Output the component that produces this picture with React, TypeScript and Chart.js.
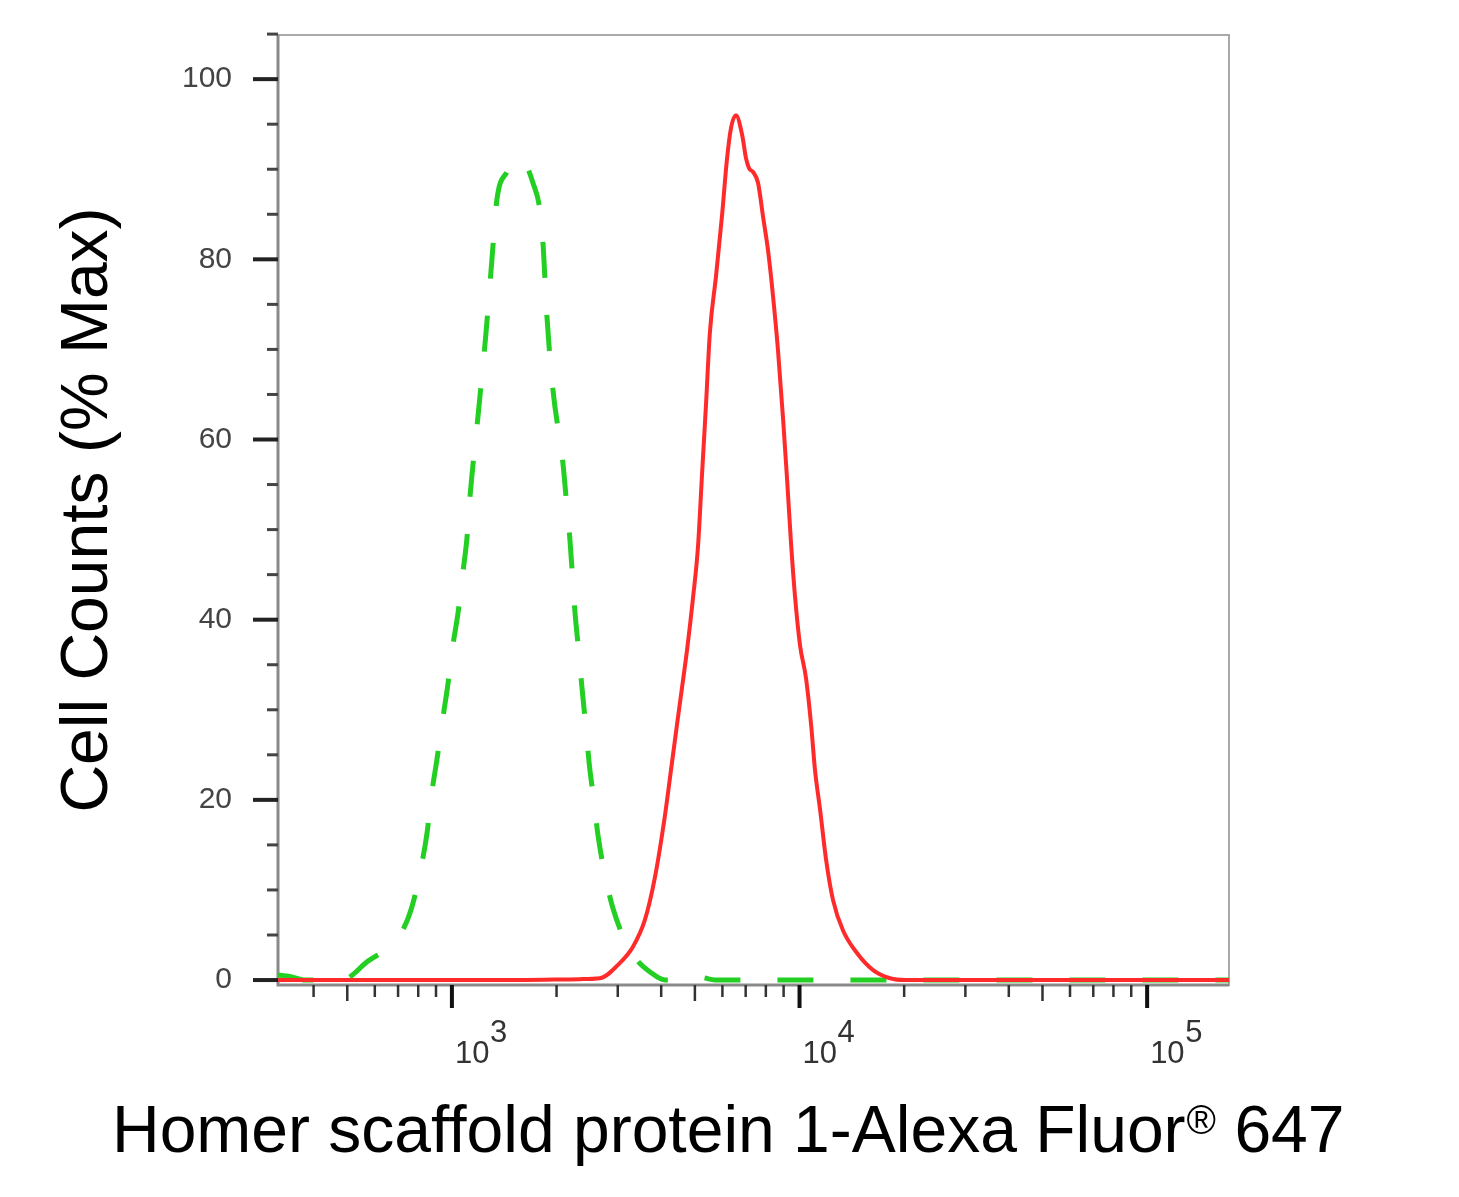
import React, { useEffect, useRef } from "react";
import Chart from "chart.js/auto";

// [intensity, % of max]
const stainedCurve: [number, number][] = [
  [316, 0], [708, 0], [1570, 0], [2334, 0.1], [2667, 0.2], [3043, 1.9],
  [3318, 3.7], [3592, 6.7], [3837, 11.4], [4102, 18.3], [4268, 23.3],
  [4440, 28.3], [4589, 32.4], [4746, 36.6], [4938, 42.4], [5104, 48.1],
  [5240, 56.0], [5383, 63.9], [5521, 71.8], [5754, 78.2], [5986, 84.9],
  [6180, 91.0], [6353, 94.6], [6563, 96.0], [6839, 93.8], [7017, 91.2],
  [7160, 90.1], [7346, 89.7], [7596, 88.5], [7856, 84.7], [8117, 81.0],
  [8386, 76.0], [8671, 69.9], [8971, 62.2], [9212, 55.5], [9460, 48.3],
  [9710, 42.5], [10030, 37.2], [10440, 33.5], [10800, 28.3], [11080, 23.3],
  [11460, 18.9], [11910, 13.5], [12480, 8.9], [13340, 5.5], [14630, 3.0],
  [16280, 1.1], [18210, 0.2], [20130, 0], [37760, 0], [172000, 0],
];

const controlCurve: [number, number][] = [
  [316, 0.55], [342, 0.4], [378, 0], [446, 0], [482, 0], [569, 2.0],
  [708, 5.0], [767, 8.1], [820, 13.0], [848, 16.3], [876, 20.9], [905, 24.4],
  [942, 29.1], [973, 32.7], [1007, 37.2], [1041, 40.7], [1076, 45.3],
  [1105, 49.1], [1127, 53.6], [1188, 62.5], [1253, 71.8], [1303, 79.9],
  [1347, 86.6], [1439, 89.7], [1538, 91.3], [1633, 90.5], [1710, 88.5],
  [1791, 85.5], [1828, 81.8], [1877, 73.6], [1953, 65.5], [2086, 57.4],
  [2142, 52.5], [2186, 48.8], [2261, 40.7], [2319, 36.3], [2366, 32.5],
  [2430, 28.0], [2480, 24.2], [2563, 19.8], [2631, 16.1], [2756, 11.7],
  [2904, 8.0], [3190, 3.9], [3407, 2.2], [3715, 0.9], [4102, 0],
  [4842, 0.1], [5174, 0.3], [5715, 0], [7000, 0], [172000, 0],
];

const yTickValues = [0, 20, 40, 60, 80, 100];
const yMinorTicks = [5, 10, 15, 25, 30, 35, 45, 50, 55, 65, 70, 75, 85, 90, 95, 105];
const xMajorTicks = [1000, 10000, 100000];
const xMinorTicks = [
  400, 600, 700, 800, 900,
  2000, 3000, 4000, 6000, 7000, 8000, 9000,
  20000, 30000, 40000, 60000, 70000, 80000, 90000,
];
const xMidTicks = [500, 5000, 50000];
const xExponents = ["3", "4", "5"];

const xTitleMain = "Homer scaffold protein 1-Alexa Fluor";
const xTitleMark = "®";
const xTitleTail = " 647";
const yTitle = "Cell Counts (% Max)";

const FONT = "'Liberation Sans', Arial, sans-serif";

const axesPlugin = {
  id: "flowAxes",
  beforeDatasetsDraw(chart: any) {
    const { ctx, chartArea: a } = chart;
    ctx.save();
    ctx.strokeStyle = "#a9a9a9";
    ctx.lineWidth = 2;
    ctx.strokeRect(a.left, a.top, a.right - a.left, a.bottom - a.top);
    ctx.strokeStyle = "#8a8a8a";
    ctx.lineWidth = 3;
    ctx.beginPath();
    ctx.moveTo(a.left, a.top);
    ctx.lineTo(a.left, a.bottom);
    ctx.lineTo(a.right, a.bottom);
    ctx.stroke();
    ctx.restore();
  },
  afterDraw(chart: any) {
    const { ctx, chartArea: a } = chart;
    const xs = chart.scales.x;
    const ys = chart.scales.y;
    ctx.save();

    // y ticks
    ctx.strokeStyle = "#222";
    ctx.lineWidth = 4;
    yTickValues.forEach((v) => {
      const p = ys.getPixelForValue(v);
      ctx.beginPath();
      ctx.moveTo(a.left - 25, p);
      ctx.lineTo(a.left, p);
      ctx.stroke();
    });
    ctx.strokeStyle = "#444";
    ctx.lineWidth = 3;
    yMinorTicks.forEach((v) => {
      const p = ys.getPixelForValue(v);
      ctx.beginPath();
      ctx.moveTo(a.left - 11, p);
      ctx.lineTo(a.left, p);
      ctx.stroke();
    });

    // x ticks
    ctx.strokeStyle = "#333";
    ctx.lineWidth = 2.5;
    xMinorTicks.forEach((v) => {
      const p = xs.getPixelForValue(v);
      ctx.beginPath();
      ctx.moveTo(p, a.bottom);
      ctx.lineTo(p, a.bottom + 12);
      ctx.stroke();
    });
    xMidTicks.forEach((v) => {
      const p = xs.getPixelForValue(v);
      ctx.beginPath();
      ctx.moveTo(p, a.bottom);
      ctx.lineTo(p, a.bottom + 16);
      ctx.stroke();
    });
    ctx.strokeStyle = "#111";
    ctx.lineWidth = 4;
    xMajorTicks.forEach((v) => {
      const p = xs.getPixelForValue(v);
      ctx.beginPath();
      ctx.moveTo(p, a.bottom);
      ctx.lineTo(p, a.bottom + 23);
      ctx.stroke();
    });

    // x tick labels, 10 with a raised exponent
    ctx.fillStyle = "#333";
    ctx.textAlign = "left";
    ctx.textBaseline = "alphabetic";
    ctx.font = `31px ${FONT}`;
    xMajorTicks.forEach((v, i) => {
      const p = xs.getPixelForValue(v);
      ctx.fillText("10", p + 3, a.bottom + 78);
      ctx.fillText(xExponents[i], p + 38, a.bottom + 57);
    });

    // x title
    ctx.fillStyle = "#000";
    ctx.font = `66px ${FONT}`;
    let tx = 112;
    const ty = 1152;
    ctx.fillText(xTitleMain, tx, ty);
    tx += ctx.measureText(xTitleMain).width;
    ctx.font = `40px ${FONT}`;
    ctx.fillText(xTitleMark, tx + 1, ty - 18);
    tx += ctx.measureText(xTitleMark).width + 1;
    ctx.font = `66px ${FONT}`;
    ctx.fillText(xTitleTail, tx, ty);

    ctx.restore();
  },
};

const FlowHistogram: React.FC = () => {
  const canvasRef = useRef<HTMLCanvasElement | null>(null);

  useEffect(() => {
    document.body.style.margin = "0";
    if (!canvasRef.current) return;
    const ctx = canvasRef.current.getContext("2d");
    if (!ctx) return;

    const chart = new Chart(ctx, {
      type: "line",
      data: {
        datasets: [
          {
            label: "Homer1",
            data: stainedCurve.map(([x, y]) => ({ x, y })),
            borderColor: "#ff2b2b",
            borderWidth: 4,
            pointRadius: 0,
            cubicInterpolationMode: "monotone",
            fill: false,
          },
          {
            label: "Isotype control",
            data: controlCurve.map(([x, y]) => ({ x, y })),
            borderColor: "#22cf22",
            borderWidth: 5,
            borderDash: [36, 37],
            pointRadius: 0,
            cubicInterpolationMode: "monotone",
            fill: false,
          },
        ],
      },
      options: {
        responsive: true,
        maintainAspectRatio: false,
        animation: false,
        events: [],
        layout: { padding: { left: 0, top: 35, right: 230, bottom: 0 } },
        scales: {
          x: {
            type: "logarithmic",
            min: 316,
            max: 172000,
            grid: { display: false, drawTicks: false },
            border: { display: false },
            ticks: { display: false },
            afterFit: (scale: any) => {
              scale.height = 212;
              scale.paddingLeft = 0;
              scale.paddingRight = 0;
            },
          },
          y: {
            type: "linear",
            min: -0.55,
            max: 104.9,
            grid: { display: false, drawTicks: false },
            border: { display: false },
            afterBuildTicks: (scale: any) => {
              scale.ticks = yTickValues.map((v) => ({ value: v }));
            },
            afterFit: (scale: any) => {
              scale.width = 278;
              scale.paddingTop = 0;
              scale.paddingBottom = 0;
            },
            ticks: {
              padding: 46,
              color: "#444",
              font: { family: FONT, size: 30 },
              callback: (value) => String(value),
            },
            title: {
              display: true,
              text: yTitle,
              color: "#000",
              font: { family: FONT, size: 66 },
              padding: { top: 49, bottom: 0 },
            },
          },
        },
        plugins: {
          legend: { display: false },
          tooltip: { enabled: false },
        },
      },
      plugins: [axesPlugin],
    });

    return () => {
      chart.destroy();
    };
  }, []);

  return (
    <div style={{ width: 1459, height: 1197, position: "relative" }}>
      <canvas ref={canvasRef}></canvas>
    </div>
  );
};

export default function App() {
  return <FlowHistogram />;
}
